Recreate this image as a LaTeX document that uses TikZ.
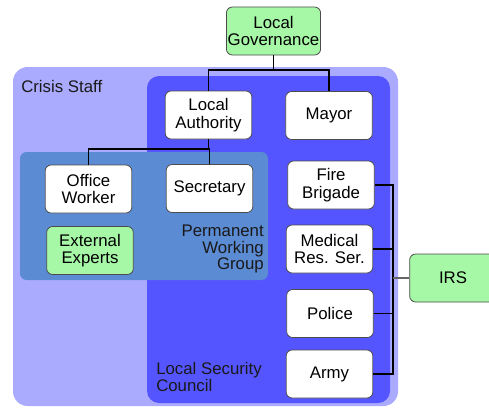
\documentclass[tikz,border=0pt]{standalone}
\usepackage{fontspec}
\setmainfont{Liberation Sans}
\definecolor{staff}{HTML}{AAAAFF}
\definecolor{council}{HTML}{5555FF}
\definecolor{group}{HTML}{5B8BD2}
\definecolor{extern}{HTML}{A6F7A6}

\begin{document}
\begin{tikzpicture}[x=0.75pt, y=-0.75pt, font=\fontsize{12.6}{13}\selectfont,
	unit/.style={draw=black!70, line width=0.6pt, fill=white, rounded corners=4.5pt, minimum width=65pt, minimum height=36pt, align=center, inner sep=1pt},
	ext/.style={unit, fill=extern},
	label/.style={inner sep=0pt, text=black!90}]
	\useasboundingbox (0,0) rectangle (489,407);
	% Areas:
	\fill[staff, rounded corners=11pt] (13,67) rectangle (398,406);
	\fill[council, rounded corners=9pt] (147,76) rectangle (390,403);
	\fill[group, rounded corners=5pt] (20,152) rectangle (268,280);
	\node[label, anchor=west] (staffL) at (21,86) {Crisis Staff};
	\node[label, anchor=west, align=left] (councilL) at (156,377) {Local Security\\Council};
	\node[label, anchor=east, align=right, font=\fontsize{12.6}{12.4}\selectfont] (groupL) at (264,249) {Permanent\\Working\\Group};
	% Units:
	\node[ext] (LG) at (273.5,31) {Local\\Governance};
	\node[unit] (LA) at (208.5,115) {Local\\Authority};
	\node[unit] (mayor) at (329,115.5) {Mayor};
	\node[unit] (OW) at (88.5,189) {Office\\Worker};
	\node[unit] (sec) at (209.5,188.5) {Secretary};
	\node[ext] (EE) at (90,250.5) {External\\Experts};
	\node[unit] (fire) at (331,185) {Fire\\Brigade};
	\node[unit] (med) at (329.5,249) {Medical\\Res. Ser.};
	\node[unit] (police) at (330,313.5) {Police};
	\node[unit] (army) at (329.5,374) {Army};
	\node[ext] (IRS) at (453,278) {IRS};
	% Wires:
	\coordinate (top) at (273.5,70);
	\coordinate (mid) at (208.5,149);
	\coordinate (bus) at (393,278);
	\draw[line width=0.8pt] (LG) -- (top);
	\draw[line width=0.8pt] (LA.north) |- (top) -| (mayor.north);
	\draw[line width=0.8pt] (LA) -- (mid);
	\draw[line width=0.8pt] (OW.north) |- (mid) -| (sec.north);
	\draw[line width=0.8pt] (fire) -| (bus) |- (army);
	\draw[line width=0.8pt] (med) -| (bus);
	\draw[line width=0.8pt] (police) -| (bus);
	\draw[line width=0.8pt, black!60] (bus) -- (IRS);
\end{tikzpicture}
\end{document}
